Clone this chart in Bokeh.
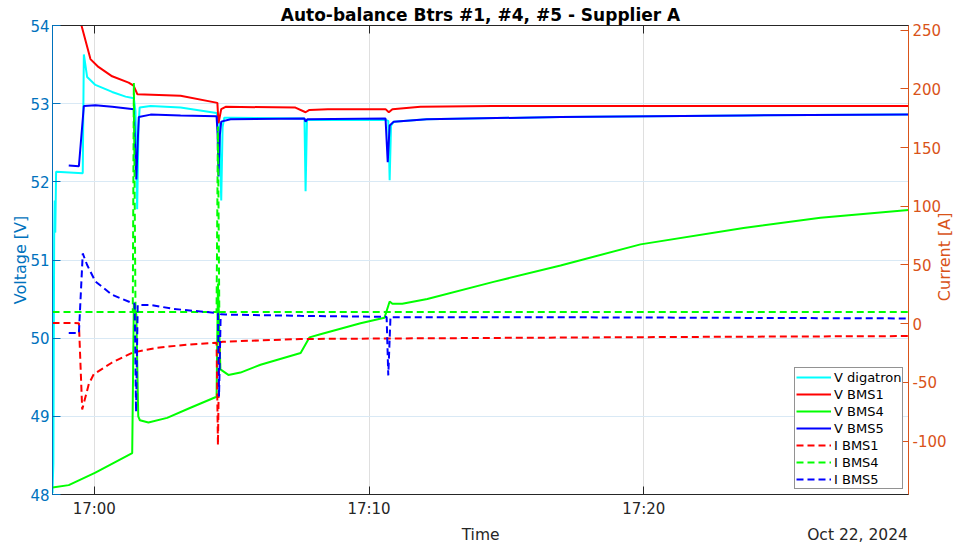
import math
from bokeh.plotting import figure
from bokeh.models import Range1d, LinearAxis, FixedTicker
from bokeh.embed import file_html
from bokeh.resources import INLINE

# ---------------- data (time in minutes after 17:00) ----------------
x_ticks = [0, 10, 20]
x_tick_labels = ["17:00", "17:10", "17:20"]
v_ticks = [48, 49, 50, 51, 52, 53, 54]
i_ticks = [-100, -50, 0, 50, 100, 150, 200, 250]
i_tick_labels = ["-100", "-50", "0", "50", "100", "150", "200", "250"]

x_title = "Time"
x_date = "Oct 22, 2024"
y_title = "Voltage [V]"
y2_title = "Current [A]"

vdig_t = [-1.521, -1.49, -1.46, -1.44, -1.42, -1.39, -0.42, -0.38, -0.26, 0.04, 0.65, 1.14, 1.44, 1.50,
          1.56, 1.61, 1.65, 2.05, 3.14, 4.45, 4.55, 4.62, 4.67, 4.73, 5.0, 7.65, 7.69, 7.74, 10.6, 10.70,
          10.75, 10.80, 10.9, 12.1, 16.97, 23.63, 29.634]
vdig_v = [48.02, 48.4, 51.3, 51.76, 51.35, 52.13, 52.11, 53.63, 53.34, 53.24, 53.15, 53.09, 53.07, 52.9,
          51.65, 52.7, 52.95, 52.97, 52.95, 52.88, 52.75, 51.76, 52.7, 52.82, 52.82, 52.81, 51.88, 52.79,
          52.79, 52.78, 52.02, 52.72, 52.77, 52.8, 52.83, 52.85, 52.86]

v1_t = [-0.50, -0.466, -0.14, 0.15, 0.65, 1.25, 1.43, 1.57, 3.14, 4.48, 4.52, 4.62, 4.78, 7.32, 7.69,
        7.83, 8.5, 10.6, 10.72, 10.85, 11.87, 14.5, 29.634]
v1_v = [54.08, 54.0, 53.57, 53.47, 53.35, 53.27, 53.23, 53.12, 53.10, 53.01, 52.75, 52.93, 52.96, 52.95,
        52.89, 52.92, 52.93, 52.93, 52.89, 52.93, 52.96, 52.97, 52.97]

v4_t = [-1.521, -0.93, 0.04, 1.38, 1.44, 1.53, 1.60, 1.66, 1.97, 2.65, 3.50, 4.45, 4.50, 4.59, 4.88,
        5.32, 6.05, 7.51, 7.83, 8.23, 9.69, 10.56, 10.75, 10.85, 11.21, 12.12, 14.53, 16.97, 19.88,
        23.63, 26.43, 29.634]
v4_v = [48.09, 48.12, 48.28, 48.53, 50.44, 50.3, 49.0, 48.95, 48.92, 48.98, 49.11, 49.25, 50.7, 49.6,
        49.53, 49.56, 49.66, 49.81, 50.01, 50.05, 50.19, 50.26, 50.47, 50.44, 50.44, 50.50, 50.72, 50.93,
        51.2, 51.41, 51.54, 51.64]

v5_t = [-0.93, -0.56, -0.38, 0.04, 0.65, 1.44, 1.48, 1.53, 1.58, 1.62, 2.05, 3.14, 4.45, 4.49, 4.52,
        4.57, 4.62, 4.96, 7.65, 7.69, 7.75, 10.6, 10.68, 10.75, 10.9, 12.1, 16.97, 23.63, 29.634]
v5_v = [52.21, 52.20, 52.97, 52.98, 52.96, 52.93, 52.5, 52.03, 52.5, 52.83, 52.86, 52.85, 52.84, 52.6,
        52.07, 52.6, 52.77, 52.80, 52.81, 52.77, 52.80, 52.81, 52.25, 52.72, 52.77, 52.8, 52.83, 52.85,
        52.86]

i1_t = [-1.521, -0.56, -0.44, -0.20, -0.02, 0.65, 1.40, 2.29, 3.50, 4.45, 4.50, 4.55, 4.67, 5.32, 7.5,
        10.5, 16.97, 22.07, 29.634]
i1_v = [0.7, 0.5, -73, -51.4, -43, -33, -24.5, -20.4, -17.6, -16.2, -103.4, -16, -15.4, -14.8, -13,
        -12.6, -11.8, -11.2, -10.5]

i4_t = [-1.521, 1.40, 1.44, 1.50, 4.45, 4.50, 4.55, 29.634]
i4_v = [10, 10, 205, 10, 10, 168, 10, 10]

i5_t = [-0.93, -0.56, -0.42, -0.26, 0.04, 0.65, 1.38, 1.47, 1.52, 1.58, 2.05, 2.88, 4.45, 4.50, 4.54,
        4.60, 4.78, 7.5, 10.53, 10.64, 10.70, 10.78, 10.85, 16.97, 29.634]
i5_v = [-7.8, -8, 59.8, 50, 36, 24.6, 17.6, 17, -75, 16, 16, 12.6, 9.2, 9, -62, 8, 7.8, 6.7, 5.9, 5.8,
        -44, 5.8, 5.6, 5.5, 4.5]

# ---------------- styling ----------------
FONT = "DejaVu Sans"
LEFT_C = "#0072BD"
RIGHT_C = "#D95319"
AX_C = "#262626"

FRAME_L, FRAME_R, FRAME_T, FRAME_B = 52, 908, 25, 498
X_RANGE = (-1.521, 29.634)
V_RANGE = (48, 54)
I_RANGE = (-145.4, 253.9)

p = figure(width=966, height=546, output_backend="svg", toolbar_location=None,
           x_range=Range1d(*X_RANGE), y_range=Range1d(*V_RANGE),
           min_border_left=FRAME_L, min_border_right=966 - FRAME_R,
           min_border_top=FRAME_T, min_border_bottom=546 - FRAME_B,
           title="Auto-balance Btrs #1, #4, #5 - Supplier A")
p.extra_y_ranges = {"cur": Range1d(*I_RANGE)}

p.title.align = "center"
p.title.text_font = FONT
p.title.text_font_size = "17px"
p.title.text_font_style = "bold"
p.title.text_color = "#000000"
p.title.standoff = 1

p.outline_line_color = AX_C
p.outline_line_width = 1
p.outline_line_alpha = 1.0
p.background_fill_color = "white"
p.border_fill_color = "white"


def no_minor(ax):
    ax.minor_tick_in = 0
    ax.minor_tick_out = 0
    ax.minor_tick_line_color = None


# bottom time axis
xa = p.xaxis[0]
xa.ticker = FixedTicker(ticks=x_ticks)
xa.major_label_overrides = {t: l for t, l in zip(x_ticks, x_tick_labels)}
xa.major_tick_in = 8
xa.major_tick_out = 0
no_minor(xa)
xa.axis_line_color = AX_C
xa.major_tick_line_color = AX_C
xa.major_label_text_color = AX_C
xa.major_label_text_font = FONT
xa.major_label_text_font_size = "15px"
xa.major_label_standoff = 5

# second row under the time axis: "Time" centred, date at the right end
frame_w = FRAME_R - FRAME_L
px_per_min = frame_w / (X_RANGE[1] - X_RANGE[0])
time_pos = round(X_RANGE[0] + (frame_w / 2) / px_per_min, 2)
date_pos = round(X_RANGE[0] + (906 - 49 - FRAME_L) / px_per_min, 2)
xb = LinearAxis(ticker=FixedTicker(ticks=[time_pos, date_pos]))
xb.major_label_overrides = {time_pos: x_title, date_pos: x_date}
xb.major_tick_in = 0
xb.major_tick_out = 0
no_minor(xb)
xb.axis_line_color = None
xb.major_tick_line_color = None
xb.major_label_text_color = AX_C
xb.major_label_text_font = FONT
xb.major_label_text_font_size = "15.5px"
xb.major_label_standoff = 5
p.add_layout(xb, "below")

# left voltage axis
ya = p.yaxis[0]
ya.ticker = FixedTicker(ticks=v_ticks)
ya.major_tick_in = 8
ya.major_tick_out = 0
no_minor(ya)
ya.axis_line_color = LEFT_C
ya.major_tick_line_color = LEFT_C
ya.major_label_text_color = LEFT_C
ya.major_label_text_font = FONT
ya.major_label_text_font_size = "15px"
ya.major_label_standoff = 3
ya.axis_label = y_title
ya.axis_label_text_font = FONT
ya.axis_label_text_font_size = "16px"
ya.axis_label_text_font_style = "normal"
ya.axis_label_text_color = LEFT_C
ya.axis_label_standoff = -3

# right current axis (plain ASCII hyphen for negative labels)
yr = LinearAxis(y_range_name="cur", ticker=FixedTicker(ticks=i_ticks))
yr.major_label_overrides = {t: l for t, l in zip(i_ticks, i_tick_labels)}
yr.major_tick_in = 8
yr.major_tick_out = 0
no_minor(yr)
yr.axis_line_color = RIGHT_C
yr.major_tick_line_color = RIGHT_C
yr.major_label_text_color = RIGHT_C
yr.major_label_text_font = FONT
yr.major_label_text_font_size = "15px"
yr.major_label_standoff = 4
p.add_layout(yr, "right")

# right axis title (reads bottom-to-top); the text starts at its anchor and runs upward,
# so the anchor sits low enough for the text to be centred on the frame
cur_anchor = 19.2
yr2 = LinearAxis(y_range_name="cur", ticker=FixedTicker(ticks=[cur_anchor]))
yr2.major_label_overrides = {cur_anchor: y2_title}
yr2.major_label_orientation = math.pi / 2
yr2.major_tick_in = 0
yr2.major_tick_out = 0
no_minor(yr2)
yr2.axis_line_color = None
yr2.major_tick_line_color = None
yr2.major_label_text_color = RIGHT_C
yr2.major_label_text_font = FONT
yr2.major_label_text_font_size = "16px"
yr2.major_label_standoff = -5
p.add_layout(yr2, "right")

# top box edge ticks (no labels)
xt = LinearAxis(ticker=FixedTicker(ticks=x_ticks))
xt.major_tick_in = 8
xt.major_tick_out = 0
no_minor(xt)
xt.axis_line_color = AX_C
xt.major_tick_line_color = AX_C
xt.major_label_text_font_size = "1px"
xt.major_label_text_color = None
xt.major_label_standoff = 0
p.add_layout(xt, "above")

p.xgrid.grid_line_color = "#dfdfdf"
p.xgrid.grid_line_width = 1
p.ygrid.grid_line_color = "#d9e9f5"
p.ygrid.grid_line_width = 1

LW = 2
DASH = "7 4"
p.line(vdig_t, vdig_v, color="#00FFFF", line_width=LW, legend_label="V digatron")
p.line(v1_t, v1_v, color="#FF0000", line_width=LW, legend_label="V BMS1")
p.line(v4_t, v4_v, color="#00FF00", line_width=LW, legend_label="V BMS4")
p.line(v5_t, v5_v, color="#0000FF", line_width=LW, legend_label="V BMS5")
p.line(i1_t, i1_v, color="#FF0000", line_width=LW, line_dash=DASH, y_range_name="cur", legend_label="I BMS1")
p.line(i4_t, i4_v, color="#00FF00", line_width=LW, line_dash=DASH, y_range_name="cur", legend_label="I BMS4")
p.line(i5_t, i5_v, color="#0000FF", line_width=LW, line_dash=DASH, y_range_name="cur", legend_label="I BMS5")

lg = p.legend[0]
lg.location = (742, 5)
lg.margin = 0
lg.padding = 1
lg.spacing = 1
lg.glyph_width = 35
lg.glyph_height = 16
lg.label_height = 16
lg.label_standoff = 3
lg.label_text_font = FONT
lg.label_text_font_size = "13px"
lg.label_text_color = "#000000"
lg.border_line_color = AX_C
lg.border_line_width = 1
lg.background_fill_color = "white"
lg.background_fill_alpha = 1.0

open("out.html", "w").write(file_html(p, INLINE))
